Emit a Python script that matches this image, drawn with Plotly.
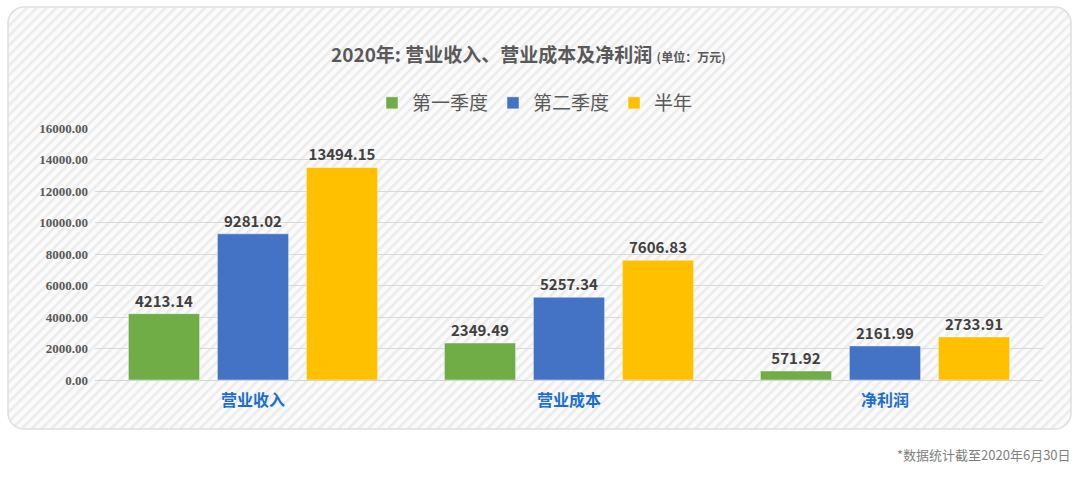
import base64
import plotly.graph_objects as go

categories = ["营业收入", "营业成本", "净利润"]
series_names = ["第一季度", "第二季度", "半年"]
q1_values = [4213.14, 2349.49, 571.92]
q2_values = [9281.02, 5257.34, 2161.99]
half_values = [13494.15, 7606.83, 2733.91]
colors = ["#70ad47", "#4472c4", "#ffc000"]
tick_vals = [0, 2000, 4000, 6000, 8000, 10000, 12000, 14000, 16000]

W, H = 1080, 478
L, R, T, B = 95, 37, 128, 98
PW, PH = W - L - R, H - T - B

CJK = "Noto Sans CJK SC, Noto Sans, sans-serif"

fig = go.Figure()
for name, vals, col in zip(series_names, [q1_values, q2_values, half_values], colors):
    fig.add_trace(go.Bar(
        x=categories, y=vals, name=name,
        marker=dict(color=col, line=dict(color="rgba(255,255,255,0.45)", width=1)),
        text=[f"{v:.2f}" for v in vals], textposition="outside",
        textfont=dict(family=CJK, size=15, color="#404040", weight="bold"),
        cliponaxis=False,
    ))

# striped rounded panel background (SVG image)
px0, py0, pw, ph = 7, 6, 1065, 424
svg = f'''<svg xmlns="http://www.w3.org/2000/svg" width="{pw}" height="{ph}" viewBox="0 0 {pw} {ph}">
<defs><pattern id="p" patternUnits="userSpaceOnUse" width="7" height="7" patternTransform="rotate(45)">
<rect width="7" height="7" fill="#fbfbfb"/><rect width="2.6" height="7" fill="#ececec"/></pattern></defs>
<rect x="1" y="1" width="{pw-2}" height="{ph-2}" rx="16" ry="16" fill="url(#p)" stroke="#dedede" stroke-width="1.5"/>
</svg>'''
src = "data:image/svg+xml;base64," + base64.b64encode(svg.encode()).decode()

def xp(px):
    return (px - L) / PW

def yp(py):
    return (H - B - py) / PH

fig.add_layout_image(dict(
    source=src, xref="paper", yref="paper",
    x=xp(px0), y=yp(py0), sizex=pw / PW, sizey=ph / PH,
    xanchor="left", yanchor="top", sizing="stretch", layer="below",
))

cx = xp(528)
fig.add_annotation(
    xref="paper", yref="paper", x=cx, y=yp(54), xanchor="center", yanchor="middle",
    showarrow=False,
    text="<b>2020年: 营业收入、营业成本及净利润</b> <b><span style='font-size:12px'>(单位：万元)</span></b>",
    font=dict(family=CJK, size=19, color="#595959"),
)
fig.add_annotation(
    xref="paper", yref="paper", x=xp(1073), y=yp(454), xanchor="right", yanchor="middle",
    showarrow=False, text="*数据统计截至2020年6月30日",
    font=dict(family=CJK, size=13, color="#808080"),
)

fig.update_layout(
    width=W, height=H,
    margin=dict(l=L, r=R, t=T, b=B, pad=0),
    paper_bgcolor="white", plot_bgcolor="rgba(0,0,0,0)",
    barmode="group", bargap=0.155, bargroupgap=0.2,
    showlegend=True,
    legend=dict(orientation="h", x=xp(535), xanchor="center", y=yp(103), yanchor="middle",
                font=dict(family=CJK, size=19, color="#595959"),
                bgcolor="rgba(0,0,0,0)", itemwidth=30, traceorder="normal"),
    xaxis=dict(showgrid=False, showline=True, linecolor="#d4d4d4", linewidth=1,
               tickfont=dict(family=CJK, size=16, color="#1c6ed6", weight="bold"),
               ticks="", ticklabelstandoff=6, fixedrange=True),
    yaxis=dict(range=[0, 16000], tickvals=tick_vals, tickformat=".2f",
               showgrid=True, gridcolor="#d9d9d9", gridwidth=1, zeroline=False,
               tickfont=dict(family="Liberation Serif", size=13, color="#595959", weight="bold"),
               ticks="", ticklabelstandoff=6, fixedrange=True),
)

fig.write_html("out.html")
